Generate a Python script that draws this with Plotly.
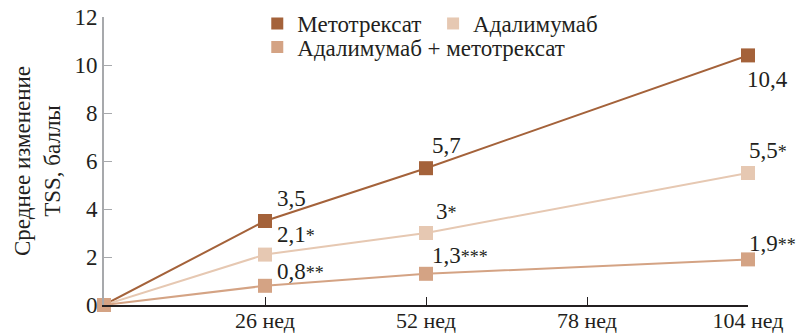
import plotly.graph_objects as go

weeks = [0, 26, 52, 104]
series_names = ["Метотрексат", "Адалимумаб", "Адалимумаб + метотрексат"]
mtx = [0, 3.5, 5.7, 10.4]
ada = [0, 2.1, 3.0, 5.5]
combo = [0, 0.8, 1.3, 1.9]
mtx_labels = ["", "3,5", "5,7", "10,4"]
ada_labels = ["", "2,1", "3", "5,5"]
ada_marks = ["", "*", "*", "*"]
combo_labels = ["", "0,8", "1,3", "1,9"]
combo_marks = ["", "**", "***", "**"]
x_ticks = [26, 52, 78, 104]
x_ticklabels = ["26 нед", "52 нед", "78 нед", "104 нед"]
y_ticks = [0, 2, 4, 6, 8, 10, 12]

# label pixel offsets (style only): (xshift, yshift)
mtx_off = [None, (10, 23), (4, 23), (-3, -24)]
ada_off = [None, (10, 20), (8, 22), (-1, 23)]
combo_off = [None, (10, 14), (4, 18), (-1, 16)]

colors = ["#A4623A", "#E6C8B2", "#D4A384"]
FONT = "Liberation Serif, Times New Roman, serif"
TXT = "#231f20"

fig = go.Figure()
for vals, name, c in zip([mtx, ada, combo], series_names, colors):
    fig.add_trace(go.Scatter(
        x=weeks, y=vals, mode="lines+markers", name=name,
        line=dict(color=c, width=2),
        marker=dict(symbol="square", size=14, color=c),
        cliponaxis=False, showlegend=False, hoverinfo="skip"))

annotations = []
groups = [(mtx, mtx_labels, ["", "", "", ""], mtx_off),
          (ada, ada_labels, ada_marks, ada_off),
          (combo, combo_labels, combo_marks, combo_off)]
for vals, labels, marks, offs in groups:
    for x, y, lab, mk, off in zip(weeks, vals, labels, marks, offs):
        if not lab:
            continue
        txt = lab + (f"<span style='font-size:18px'>{mk}</span>" if mk else "")
        annotations.append(dict(
            x=x, y=y, xref="x", yref="y", text=txt, showarrow=False,
            xanchor="left", yanchor="middle", xshift=off[0], yshift=off[1],
            font=dict(family=FONT, size=23, color=TXT)))

legend_pos = [(0.238, 1.052), (0.511, 1.052), (0.238, 0.97)]
for i, (name, c) in enumerate(zip(series_names, colors)):
    lg = "legend" if i == 0 else f"legend{i+1}"
    fig.add_trace(go.Scatter(
        x=[None], y=[None], mode="markers", name=name,
        marker=dict(symbol="square", size=16, color=c),
        showlegend=True, legend=lg))

leg_common = dict(font=dict(family=FONT, size=23, color=TXT), bgcolor="rgba(0,0,0,0)",
                  xanchor="left", yanchor="top", orientation="h", itemsizing="constant")
layout_legends = {}
for i, (lx, ly) in enumerate(legend_pos):
    key = "legend" if i == 0 else f"legend{i+1}"
    layout_legends[key] = dict(x=lx, y=ly, **leg_common)

fig.update_layout(
    width=796, height=333,
    margin=dict(l=104, r=48, t=17, b=28, autoexpand=False),
    paper_bgcolor="white", plot_bgcolor="white",
    font=dict(family=FONT, size=23, color=TXT),
    annotations=annotations,
    xaxis=dict(range=[0, 104], tickvals=x_ticks, ticktext=x_ticklabels,
               showgrid=False, zeroline=False, showline=True, linecolor="#231f20",
               linewidth=1.5, ticks="inside", ticklen=8, tickcolor="#231f20",
               ticklabelstandoff=-5,
               tickfont=dict(family=FONT, size=22, color=TXT), automargin=False),
    yaxis=dict(range=[0, 12], tickvals=y_ticks, showgrid=False, zeroline=False,
               showline=True, linecolor="#a7a9ac", linewidth=2,
               ticks="inside", ticklen=8, tickcolor="#a7a9ac",
               tickfont=dict(family=FONT, size=23, color=TXT), automargin=False,
               title=dict(text="Среднее изменение<br>TSS, баллы",
                          font=dict(family=FONT, size=23, color=TXT), standoff=7)),
    **layout_legends,
)

fig.write_html("out.html")
